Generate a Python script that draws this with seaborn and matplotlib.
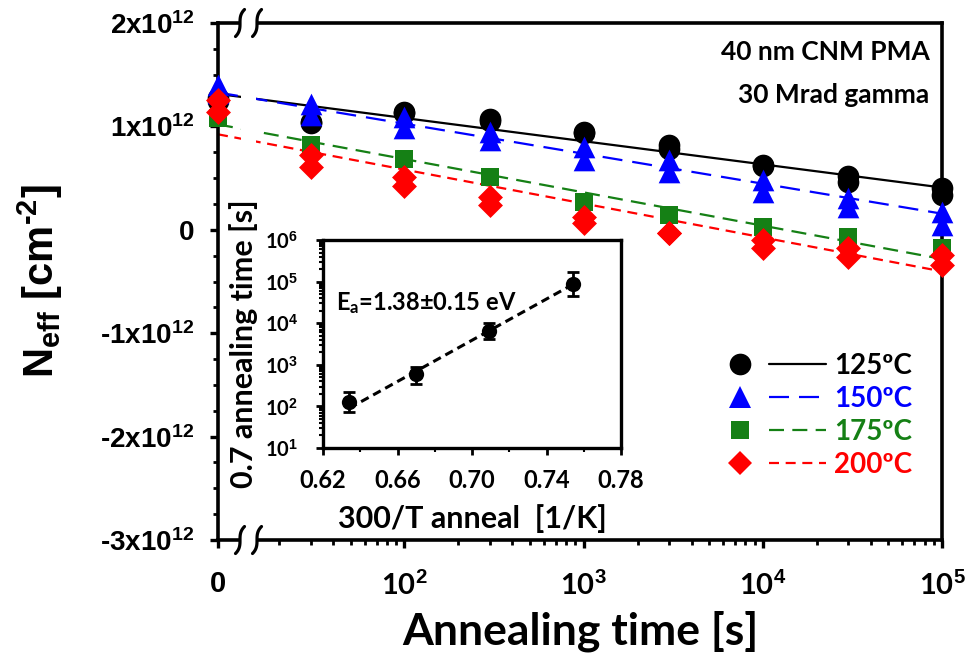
import numpy as np
import pandas as pd
import matplotlib
matplotlib.use('Agg')
import matplotlib.pyplot as plt
import seaborn as sns
from matplotlib.lines import Line2D
from matplotlib.patches import Rectangle
from matplotlib.legend_handler import HandlerTuple
from matplotlib.ticker import FixedLocator, NullFormatter, LogLocator

# ---------------- data (N_eff in units of 1e12 cm^-2) ----------------
times = [0, 30, 100, 300, 1000, 3000, 10000, 30000, 100000]
temps = ['125ºC', '150ºC', '175ºC', '200ºC']
neff_125_a = [1.27, 1.04, 1.14, 1.07, 0.95, 0.82, 0.63, 0.52, 0.40]
neff_125_b = [1.25, 1.03, 1.13, 1.05, 0.94, 0.78, 0.62, 0.46, 0.34]
neff_150_a = [1.40, 1.22, 1.09, 0.95, 0.80, 0.675, 0.48, 0.305, 0.175]
neff_150_b = [1.32, 1.11, 0.98, 0.87, 0.675, 0.56, 0.37, 0.225, 0.046]
neff_175 = [1.08, 0.82, 0.685, 0.51, 0.27, 0.143, 0.03, -0.067, -0.18]
neff_200_a = [1.255, 0.72, 0.51, 0.32, 0.127, -0.034, -0.099, -0.18, -0.245]
neff_200_b = [1.14, 0.61, 0.42, 0.24, 0.063, -0.034, -0.18, -0.26, -0.34]
# linear-in-log fits: value at t = 10 s and decrease per decade
fit_n10 = [1.305, 1.316, 1.006, 0.91]
fit_slope = [0.224, 0.29, 0.322, 0.328]

y_ticks = [-3, -2, -1, 0, 1, 2]
y_ticklabels = ['-3x10$^{12}$', '-2x10$^{12}$', '-1x10$^{12}$', '0', '1x10$^{12}$', '2x10$^{12}$']
x_ticklabels = ['$\\mathit{0}$', '10$^{\\mathit{2}}$', '10$^{\\mathit{3}}$',
                '10$^{\\mathit{4}}$', '10$^{\\mathit{5}}$']

# inset: 0.7 annealing time vs 300/T
inv_T = [0.634, 0.670, 0.709, 0.754]
t07 = [130, 600, 6400, 88000]
t07_lo = [74, 355, 4100, 45000]
t07_hi = [224, 890, 10000, 170000]
inset_fit_x = [0.634, 0.754]
inset_fit_t = [90, 85000]
inset_xticks = [0.62, 0.66, 0.70, 0.74, 0.78]
inset_yticks = [1e1, 1e2, 1e3, 1e4, 1e5, 1e6]

# ---------------- style ----------------
sns.set_theme(style='white')
plt.rcParams['font.family'] = ['Lato', 'DejaVu Sans']
plt.rcParams['font.weight'] = 'bold'
plt.rcParams['text.color'] = 'black'
plt.rcParams['axes.labelcolor'] = 'black'
plt.rcParams['xtick.color'] = 'black'
plt.rcParams['ytick.color'] = 'black'
plt.rcParams['mathtext.fontset'] = 'custom'
plt.rcParams['mathtext.rm'] = 'Liberation Sans:bold'
plt.rcParams['mathtext.bf'] = 'Liberation Sans:bold'
plt.rcParams['mathtext.it'] = 'Lato:bold'
plt.rcParams['mathtext.default'] = 'rm'

colors = ['#000000', '#0000ff', '#158015', '#ff0000']
markers = ['o', '^', 's', 'D']
msizes = [15.6, 15.6, 13.2, 12.7]
dash_styles = [None, (9, 4.5), (6.75, 3.75), (4.5, 3)]
LW = 1.6

fig = plt.figure(figsize=(9.68, 6.63), dpi=100)
ax = fig.add_axes([0.2252, 0.1855, 0.7479, 0.7798])
X0 = 9.1  # position at which t = 0 is drawn (broken axis)
ax.set_xscale('log')

xpos = [X0 if t == 0 else t for t in times]
series = [
    (0, neff_125_a), (0, neff_125_b),
    (1, neff_150_a), (1, neff_150_b),
    (2, neff_175),
    (3, neff_200_a), (3, neff_200_b),
]
rows = []
for k, vals in series:
    for xp, v in zip(xpos, vals):
        rows.append({'x': xp, 'neff': v, 'temp': temps[k]})
df = pd.DataFrame(rows)

# fit lines
for k in range(4):
    xs = np.array([X0, 1e5])
    ys = fit_n10[k] - fit_slope[k] * (np.log10(xs) - 1)
    sns.lineplot(x=xs, y=ys, color=colors[k], lw=LW, ax=ax, zorder=2, legend=False)
    if dash_styles[k] is not None:
        ax.lines[-1].set_dashes(dash_styles[k])

for k in range(4):
    sub = df[df['temp'] == temps[k]]
    sns.scatterplot(data=sub, x='x', y='neff', marker=markers[k], s=msizes[k] ** 2,
                    color=colors[k], edgecolor=colors[k], linewidth=0, ax=ax,
                    zorder=5 + k, legend=False, clip_on=False)

ax.set_xlim(X0, 1e5)
ax.set_ylim(-3, 2)

# axes cosmetics
for sp in ax.spines.values():
    sp.set_linewidth(2.6)
    sp.set_color('black')
ax.xaxis.set_major_locator(FixedLocator([X0, 1e2, 1e3, 1e4, 1e5]))
ax.set_xticklabels(x_ticklabels)
minors = [m * 10 ** d for d in range(1, 5) for m in range(2, 10)]
ax.xaxis.set_minor_locator(FixedLocator(minors))
ax.xaxis.set_minor_formatter(NullFormatter())
ax.set_yticks(y_ticks)
ax.set_yticklabels(y_ticklabels)
ax.yaxis.set_minor_locator(FixedLocator(np.arange(-3, 2.01, 0.25)))
ax.tick_params(axis='both', which='major', direction='out', length=6, width=2.4, color='black')
ax.tick_params(axis='both', which='minor', direction='out', length=3.5, width=2.0, color='black')
ax.tick_params(axis='x', which='both', bottom=True, top=False, pad=16)
ax.tick_params(axis='y', which='both', left=True, right=False, pad=11)
for lab in ax.get_xticklabels():
    lab.set_fontsize(21)
    lab.set_fontfamily('Lato')
    lab.set_fontweight('bold')
for lab in ax.get_yticklabels():
    lab.set_fontsize(20)
    lab.set_fontfamily('Liberation Sans')
    lab.set_fontweight('bold')
ax.grid(False)

ax.set_xlabel('Annealing time [s]', fontsize=32, fontweight='bold', fontfamily='Lato')
ax.xaxis.set_label_coords(0.5, -0.176)
ax.xaxis.label.set_verticalalignment('center')
ax.set_ylabel('N$_{\\mathrm{eff}}$ [cm$^{\u20102}$]', fontsize=30, fontweight='bold',
              fontfamily='Liberation Sans')
ax.yaxis.set_label_coords(-0.246, 0.5)
ax.yaxis.label.set_verticalalignment('center')

# broken-axis marks
bx0, bx1 = 0.0304, 0.0539
ax.add_patch(Rectangle((bx0 + 0.002, -0.04), bx1 - bx0 - 0.004, 1.08, transform=ax.transAxes,
                       facecolor='white', edgecolor='none', zorder=3, clip_on=False))
s = np.linspace(-1, 1, 60)
for yb in (0.0, 1.0):
    for xb in (bx0, bx1):
        ax.plot(xb + (4.5 / 724) * s ** 3, yb + (13.5 / 517) * s, color='black', lw=2.3,
                transform=ax.transAxes, clip_on=False, zorder=4, solid_capstyle='round')

# annotation
ax.text(0.983, 0.944, '40 nm CNM PMA', transform=ax.transAxes, ha='right', va='center',
        fontsize=19, fontweight='bold', fontfamily='Lato')
ax.text(0.983, 0.860, '30 Mrad gamma', transform=ax.transAxes, ha='right', va='center',
        fontsize=19, fontweight='bold', fontfamily='Lato')

# legend
handles = []
for k in range(4):
    hm = Line2D([], [], linestyle='none', marker=markers[k], markersize=msizes[k],
                color=colors[k], markeredgewidth=0)
    hl = Line2D([], [], color=colors[k], lw=LW)
    if dash_styles[k] is not None:
        hl.set_dashes(dash_styles[k])
    handles.append((hm, hl))
leg = ax.legend(handles, temps, handler_map={tuple: HandlerTuple(ndivide=None, pad=0)},
                loc='upper left', bbox_to_anchor=(0.682, 0.362), frameon=False,
                borderpad=0, borderaxespad=0, handlelength=4.1, handletextpad=0.3,
                labelspacing=0.25, prop={'family': 'Lato', 'weight': 'bold', 'size': 20},
                labelcolor=colors)

# ---------------- inset ----------------
axin = fig.add_axes([0.3337, 0.3243, 0.3079, 0.3137])
axin.set_yscale('log')
sns.lineplot(x=inset_fit_x, y=inset_fit_t, color='black', lw=2.2, ax=axin, zorder=2, legend=False)
axin.lines[-1].set_dashes((2.8, 1.7))
t07a = np.array(t07)
axin.errorbar(inv_T, t07, yerr=[t07a - np.array(t07_lo), np.array(t07_hi) - t07a], fmt='none',
              ecolor='black', elinewidth=2, capsize=4, capthick=2, zorder=3)
sns.scatterplot(x=inv_T, y=t07, color='black', marker='o', s=11 ** 2, linewidth=0,
                ax=axin, zorder=4, legend=False)
axin.set_xlim(0.62, 0.78)
axin.set_ylim(1e1, 1e6)
for sp in axin.spines.values():
    sp.set_linewidth(2.4)
    sp.set_color('black')
axin.set_xticks(inset_xticks)
axin.set_xticklabels(['%.2f' % v for v in inset_xticks])
axin.xaxis.set_minor_locator(FixedLocator([0.64, 0.68, 0.72, 0.76]))
axin.set_yticks(inset_yticks)
axin.set_yticklabels(['10$^{\\mathit{%d}}$' % int(np.log10(v)) for v in inset_yticks])
axin.yaxis.set_minor_locator(LogLocator(base=10, subs=np.arange(2, 10), numticks=20))
axin.yaxis.set_minor_formatter(NullFormatter())
axin.tick_params(axis='both', which='major', direction='out', length=5, width=2, color='black')
axin.tick_params(axis='both', which='minor', direction='out', length=3, width=1.5, color='black')
axin.tick_params(axis='x', which='both', bottom=True, top=False, pad=10)
axin.tick_params(axis='y', which='both', left=True, right=False, pad=13)
for lab in axin.get_xticklabels():
    lab.set_fontsize(17)
    lab.set_fontfamily('Lato')
    lab.set_fontweight('bold')
for lab in axin.get_yticklabels():
    lab.set_fontsize(14.5)
    lab.set_fontfamily('Lato')
    lab.set_fontweight('bold')
axin.grid(False)
axin.set_xlabel('300/T anneal  [1/K]', fontsize=22, fontweight='bold', fontfamily='Lato')
axin.xaxis.set_label_coords(0.5, -0.341)
axin.xaxis.label.set_verticalalignment('center')
axin.set_ylabel('0.7 annealing time [s]', fontsize=22, fontweight='bold', fontfamily='Lato')
axin.yaxis.set_label_coords(-0.265, 0.5)
axin.yaxis.label.set_verticalalignment('center')
axin.text(0.346, 0.697, 'E$_{\\mathit{a}}$=1.38±0.15 eV', transform=axin.transAxes, ha='center',
          va='center', fontsize=17, fontweight='bold', fontfamily='Lato')

fig.savefig('out.png', dpi=100, facecolor='white')
